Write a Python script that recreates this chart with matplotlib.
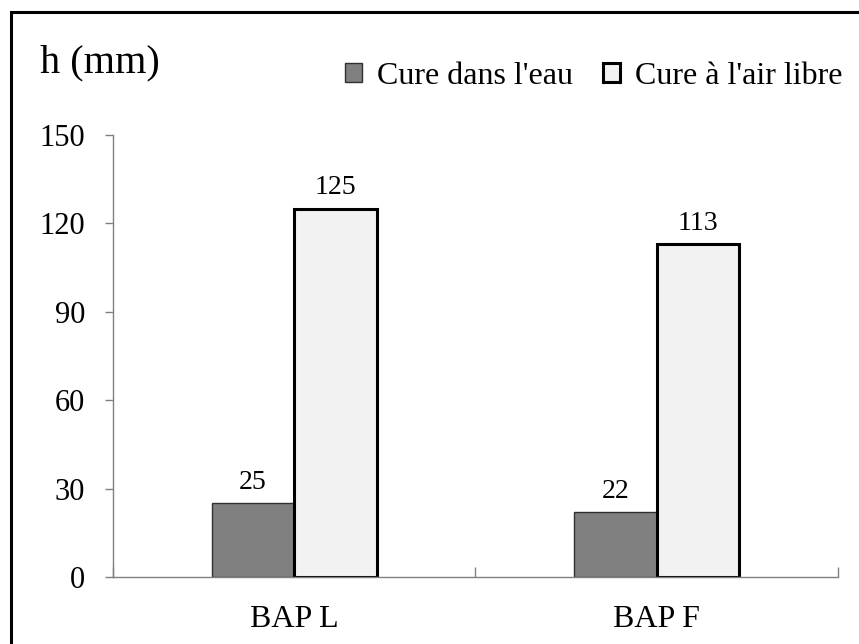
import matplotlib
matplotlib.use("Agg")
import matplotlib.pyplot as plt
from matplotlib.patches import Patch, Rectangle
import numpy as np

# données
categories = ['BAP L', 'BAP F']
eau = [25, 22]
air = [125, 113]
series_names = ["Cure dans l'eau", "Cure à l'air libre"]
yticks = [0, 30, 60, 90, 120, 150]

plt.rcParams['font.family'] = ['Liberation Serif', 'DejaVu Serif']

fig = plt.figure(figsize=(8.59, 6.44), dpi=100)
ax = fig.add_axes([0.1315, 0.104, 0.9756 - 0.1315, 0.7904 - 0.104])

x = np.arange(len(categories))
w = 0.228
b1 = ax.bar(x - w / 2, eau, w, color='#808080', edgecolor='#303030', linewidth=1)
b2 = ax.bar(x + w / 2, air, w, color='#f2f2f2', edgecolor='black', linewidth=2.2)

for rect, v in zip(list(b1) + list(b2), eau + air):
    ax.annotate(str(v), (rect.get_x() + rect.get_width() / 2, v),
                xytext=(0, 6), textcoords='offset points',
                ha='center', va='bottom', fontsize=20)

ax.set_xlim(-0.5, len(categories) - 0.5)
ax.set_ylim(0, 150)
ax.set_yticks(yticks)
ax.set_yticklabels([str(t) for t in yticks], fontsize=22)

# separateurs de categories (ticks majeurs), etiquettes au centre (ticks mineurs)
ax.set_xticks(np.arange(len(categories) + 1) - 0.5)
ax.set_xticklabels([])
ax.set_xticks(x, minor=True)
ax.set_xticklabels(categories, minor=True, fontsize=23)
ax.tick_params(axis='x', which='major', direction='in', length=7, color='#808080', width=1)
ax.tick_params(axis='x', which='minor', length=0, pad=20)
ax.tick_params(axis='y', direction='out', length=6, color='#808080', width=1, pad=14)

for s in ['top', 'right']:
    ax.spines[s].set_visible(False)
for s in ['left', 'bottom']:
    ax.spines[s].set_color('#808080')
    ax.spines[s].set_linewidth(1)

fig.text(40 / 859, 1 - 72 / 644, 'h (mm)', fontsize=29, va='baseline', ha='left')

handles = [Patch(facecolor='#808080', edgecolor='#303030', linewidth=1),
           Patch(facecolor='#f2f2f2', edgecolor='black', linewidth=2.2)]
fig.legend(handles, series_names, loc='center left', ncol=2,
           bbox_to_anchor=(345 / 859, 1 - 76 / 644), frameon=False,
           fontsize=23, handlelength=0.53, handleheight=0.53,
           handletextpad=0.47, columnspacing=0.94, borderaxespad=0, borderpad=0)

# cadre autour de la figure
fig.patches.append(Rectangle((11 / 859, -0.02), 1.0, 1 - 12 / 644 + 0.02,
                             transform=fig.transFigure, fill=False,
                             edgecolor='black', linewidth=2.2))

fig.savefig('out.png', dpi=100)
